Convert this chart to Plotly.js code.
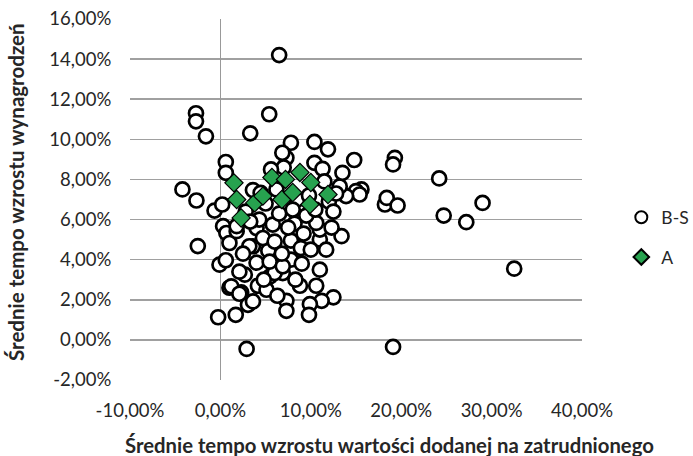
<!DOCTYPE html>
<html>
<head>
<meta charset="utf-8">
<script src="https://cdn.plot.ly/plotly-3.0.1.min.js"></script>
<style>html,body{margin:0;padding:0;background:#fff;}#chart{width:693px;height:456px;}</style>
</head>
<body>
<div id="chart"></div>
<script>
// B-S series (percent values)
var bsX = [6.5,-2.7,-2.7,-1.6,5.4,3.3,0.6,0.6,-4.2,-2.65,-0.65,0.2,-2.5,-0.25,1.7,2.9,19.1,32.5,24.2,24.7,27.2,29.0,19.3,19.1,18.2,18.4,19.6,15.6,15.0,15.4,13.9,13.2,14.8,13.5,13.4,11.0,12.5,11.2,10.6,9.9,9.8,8.8,7.3,7.3,3.05,1.0,2.3,4.15,5.1,2.7,5.5,6.9,6.0,7.8,7.3,6.85,10.4,11.9,10.4,11.3,-0.1,0.6,0.3,0.66,1.0,1.8,1.8,3.6,4.0,5.3,5.45,4.0,4.3,5.8,4.7,7.8,7.8,8.9,11.0,11.0,8.2,10.6,3.6,4.45,3.2,6.9,2.1,1.2,3.6,2.1,6.2,7.0,8.5,9.5,6.5,7.5,9.2,10.5,12.0,12.8,11.5,2.8,3.3,5.0,6.0,6.8,9.0,10.0,2.5,5.6,8.0,9.8,12.5,11.7,4.8,8.3,6.3,12.3];
var bsY = [14.2,11.3,10.9,10.15,11.25,10.3,8.87,8.33,7.5,6.95,6.45,6.75,4.68,1.13,1.25,-0.45,-0.35,3.55,8.05,6.2,5.87,6.83,9.08,8.75,6.75,7.08,6.7,7.5,7.42,7.25,7.17,7.65,8.97,8.33,5.17,3.5,2.12,1.95,2.7,1.78,1.25,2.7,1.95,1.45,1.75,2.6,2.37,2.7,2.5,3.25,3.17,3.33,3.33,9.83,9.08,9.33,9.87,9.5,8.83,8.53,3.75,3.97,5.67,5.33,4.83,5.42,5.67,4.67,3.85,4.45,3.9,5.58,6.0,5.75,5.08,4.0,4.95,4.58,5.0,5.5,5.8,5.83,7.47,7.33,4.67,3.67,3.4,2.67,1.92,2.3,7.5,8.6,7.0,6.2,6.3,5.6,5.3,6.5,6.9,7.3,7.9,6.4,5.9,6.8,4.9,4.3,3.8,4.5,4.3,8.5,6.5,7.2,6.4,4.5,3.0,3.0,2.2,5.6];
// A series (percent values)
var aX = [1.5,1.8,2.3,3.8,4.7,5.7,7.2,6.8,8.8,10.0,9.9,11.9,8.0];
var aY = [7.83,7.0,6.08,6.83,7.17,8.1,8.0,7.0,8.35,7.85,6.75,7.25,7.35];
var seriesNames = ["B-S","A"];
var xTicks = [-10,0,10,20,30,40];
var yTicks = [-2,0,2,4,6,8,10,12,14,16];
var xTitle = "Średnie tempo wzrostu wartości dodanej na zatrudnionego";
var yTitle = "Średnie tempo wzrostu wynagrodzeń";

function fmtPct(v){ return v.toFixed(2).replace(".", ",") + "%"; }
var fontFam = "Lato, 'Open Sans', sans-serif";
var txtCol = "#262626";
var traces = [
  {x: bsX, y: bsY, name: seriesNames[0], legendgroup: "g1", type: "scatter", mode: "markers",
   marker: {symbol: "circle", size: 14, color: "#ffffff", line: {color: "#000000", width: 2.7}}},
  {x: aX, y: aY, name: seriesNames[1], legendgroup: "g2", type: "scatter", mode: "markers",
   marker: {symbol: "diamond", size: 14, color: "#27A24F", line: {color: "#000000", width: 1.2}}}
];
var layout = {
  width: 693, height: 456,
  margin: {l: 130, r: 111, t: 19, b: 76, autoexpand: false},
  paper_bgcolor: "#ffffff", plot_bgcolor: "#ffffff",
  font: {family: fontFam, color: txtCol, size: 18.5},
  showlegend: true,
  legend: {x: 1.087, xanchor: "left", y: 0.395, yanchor: "middle", font: {size: 17.5, color: txtCol},
           itemwidth: 30, tracegroupgap: 14, bgcolor: "rgba(0,0,0,0)", itemsizing: "constant"},
  xaxis: {range: [-10, 40], tickvals: xTicks, ticktext: xTicks.map(fmtPct),
          showgrid: false, zeroline: true, zerolinecolor: "#999999", zerolinewidth: 1.7,
          showline: false, ticks: "outside", ticklen: 14, tickcolor: "rgba(0,0,0,0)",
          tickfont: {size: 18.5}, fixedrange: true},
  yaxis: {range: [-2, 16], tickvals: yTicks, ticktext: yTicks.map(fmtPct),
          showgrid: true, gridcolor: "#a0a0a0", gridwidth: 1.5, zeroline: false,
          showline: false, ticks: "outside", ticklen: 14, tickcolor: "rgba(0,0,0,0)",
          tickfont: {size: 18.5}, fixedrange: true},
  annotations: [
    {text: "<b>" + xTitle + "</b>", xref: "paper", yref: "paper", x: 0.575, y: -0.18,
     xanchor: "center", yanchor: "middle", showarrow: false, font: {size: 20.3, family: fontFam, color: txtCol}},
    {text: "<b>" + yTitle + "</b>", xref: "paper", yref: "paper", x: -0.252, y: 0.521, textangle: -90,
     xanchor: "center", yanchor: "middle", showarrow: false, font: {size: 20.5, family: fontFam, color: txtCol}}
  ]
};
Plotly.newPlot("chart", traces, layout, {staticPlot: true});
</script>
</body>
</html>
